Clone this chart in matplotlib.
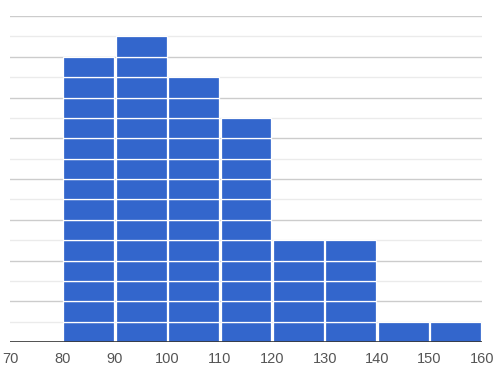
import numpy as np
import matplotlib.pyplot as plt

# histograma: cada item e um bloco empilhado
bin_starts = [80, 90, 100, 110, 120, 130, 140, 150]
counts = [14, 15, 13, 11, 5, 5, 1, 1]
xticks = [70, 80, 90, 100, 110, 120, 130, 140, 150, 160]

BLUE = "#3366cc"

fig = plt.figure(figsize=(5.02, 3.78), dpi=100)
ax = fig.add_axes([10 / 502, 36 / 378, 472 / 502, 326 / 378])

for x0, c in zip(bin_starts, counts):
    for k in range(c):
        ax.bar(x0 + 0.15, 1, width=9.7, bottom=k, align="edge", color=BLUE,
               edgecolor="white", linewidth=0.9, zorder=3)

# linhas de grade: pares mais escuras, impares mais claras
for v in range(1, 17):
    col = "#cccccc" if v % 2 == 0 else "#ebebeb"
    ax.axhline(v, color=col, linewidth=1, zorder=1)
ax.axhline(0, color="#333333", linewidth=1.2, zorder=4)

ax.set_xlim(70, 160)
ax.set_ylim(0, 16)
ax.set_xticks(xticks)
ax.set_xticklabels([str(t) for t in xticks], color="#555555", fontsize=10.5,
                   family="Liberation Sans")
ax.tick_params(axis="x", length=0, pad=7)
ax.set_yticks([])
for s in ax.spines.values():
    s.set_visible(False)

fig.savefig("out.png", dpi=100)
